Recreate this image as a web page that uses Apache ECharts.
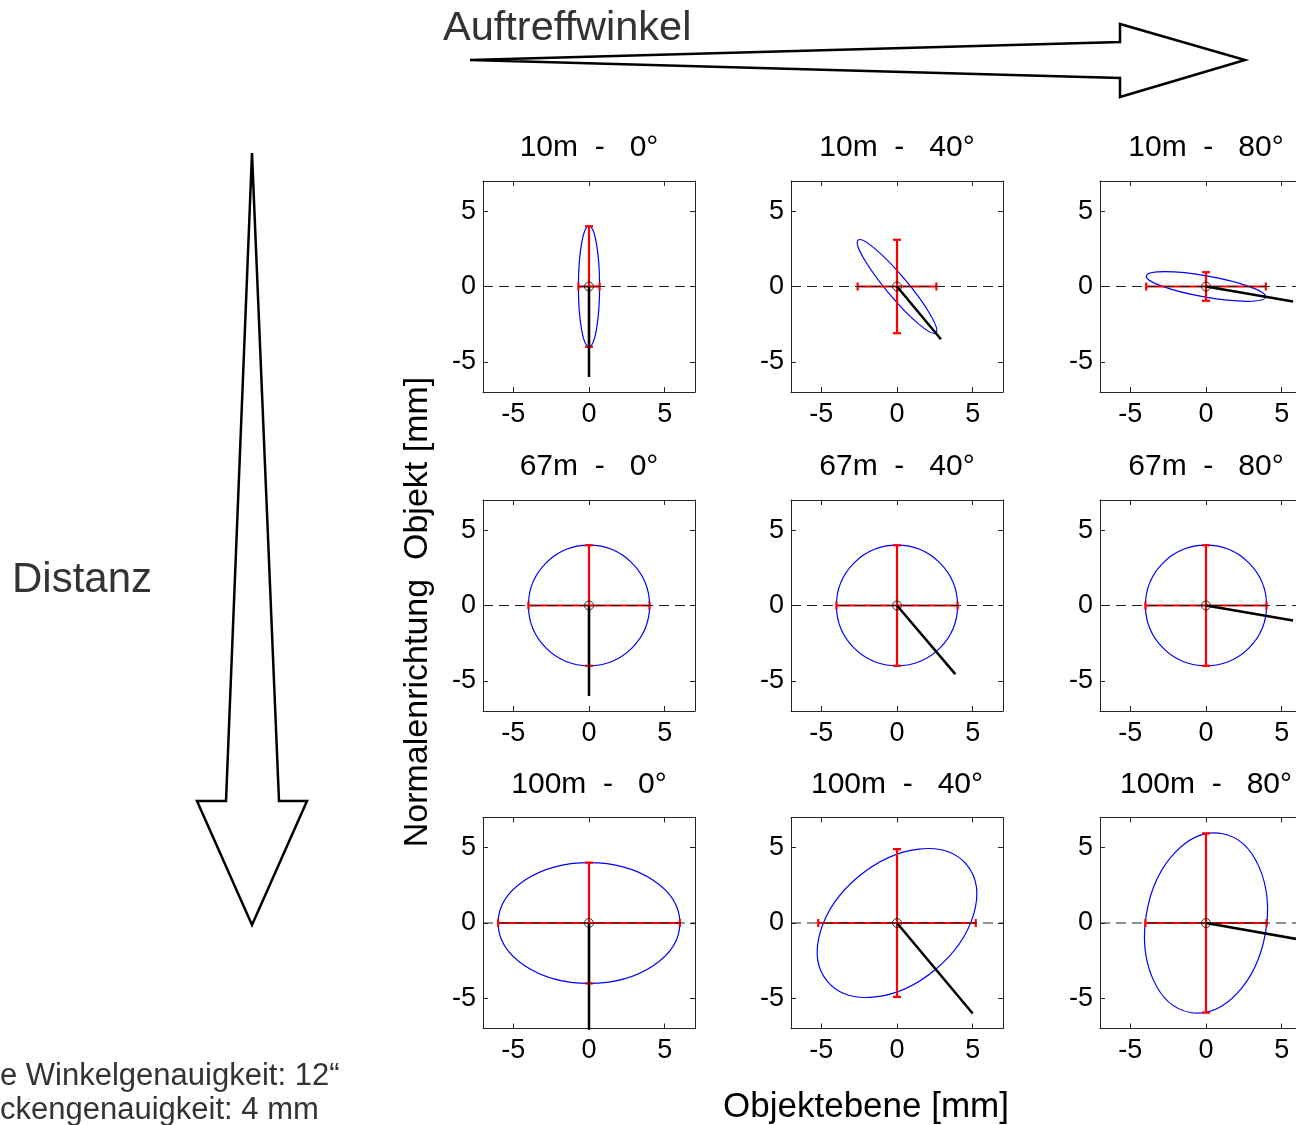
<!DOCTYPE html>
<html>
<head>
<meta charset="utf-8">
<script src="https://cdn.jsdelivr.net/npm/echarts@6/dist/echarts.min.js"></script>
<style>
  html, body { margin: 0; padding: 0; background: #ffffff; }
  #chart { width: 1296px; height: 1125px; }
</style>
</head>
<body>
<div id="chart"></div>
<script>
// Rows: target distance, columns: angle of incidence
const distances = ['10m', '67m', '100m'];
const angles = ['0°', '40°', '80°'];
const tickValues = [-5, 0, 5];
const axisRange = [-7, 7];

// Error ellipse per panel (row-major): semi-axes [mm] and rotation [deg, counter-clockwise]
const ellipseRx  = [0.7, 4.0, 4.0,   4.0, 4.0, 4.0,   6.0, 6.0, 6.0];
const ellipseRy  = [4.0, 0.7, 0.7,   4.0, 4.0, 4.0,   4.0, 4.0, 4.0];
const ellipseRot = [0,   -50, -10,   0,   0,   0,     0,   40,  80];

// Standard deviations projected on the axes (red error bars) [mm]
const errObjPlane = [0.7, 2.6, 3.95,  4.0, 4.0, 4.0,  6.0, 5.2, 4.0];
const errNormal   = [4.0, 3.1, 0.95,  4.0, 4.0, 4.0,  4.0, 4.9, 5.95];

// End point of the incoming beam drawn from the origin [mm]
const beamEndX = [0,  2.9,  5.75,  0,  3.85,  5.75,  0,  5.0,  7.9];
const beamEndY = [-6, -3.5, -1.0,  -6, -4.55, -1.0,  -8, -6.0, -1.4];

const FONT = '"Liberation Sans", Arial, Helvetica, sans-serif';
const colLeft = [483, 791, 1100];
const rowTop = [181, 500, 817.5];
const boxW = 212, boxH = 211;

const frameColor = '#262626';
const grids = [], xAxes = [], yAxes = [], series = [], graphics = [];

function axisCommon(gridIndex, position, showLabel, isX) {
  return {
    gridIndex: gridIndex,
    type: 'value',
    position: position,
    min: axisRange[0],
    max: axisRange[1],
    axisLine: { show: true, onZero: false, lineStyle: { color: frameColor, width: 1 } },
    axisTick: { show: true, inside: true, length: 5, customValues: tickValues,
                lineStyle: { color: frameColor, width: 1 } },
    axisLabel: { show: showLabel, customValues: tickValues, color: '#000',
                 fontSize: 27, fontFamily: FONT, margin: isX ? 9 : 7 },
    splitLine: { show: false }
  };
}

for (let r = 0; r < 3; r++) {
  for (let c = 0; c < 3; c++) {
    const i = r * 3 + c;
    grids.push({ left: colLeft[c], top: rowTop[r], width: boxW, height: boxH,
                 containLabel: false, outerBoundsMode: 'none' });
    xAxes.push(axisCommon(i, 'bottom', true, true));
    xAxes.push(axisCommon(i, 'top', false, true));
    yAxes.push(axisCommon(i, 'left', true, false));
    yAxes.push(axisCommon(i, 'right', false, false));
    const xi = i * 2, yi = i * 2;

    // error ellipse
    series.push({
      type: 'custom', xAxisIndex: xi, yAxisIndex: yi, silent: true, z: 1, clip: true,
      data: [[0, 0, ellipseRx[i], ellipseRy[i], ellipseRot[i]]],
      renderItem: function (params, api) {
        const ctr = api.coord([api.value(0), api.value(1)]);
        const sz = api.size([api.value(2), api.value(3)]);
        return {
          type: 'ellipse', x: ctr[0], y: ctr[1],
          rotation: api.value(4) * Math.PI / 180,
          shape: { cx: 0, cy: 0, rx: sz[0], ry: sz[1] },
          style: { fill: 'none', stroke: '#0000ff', lineWidth: 1.2 }
        };
      }
    });

    // error bars along object plane and normal direction
    series.push({
      type: 'custom', xAxisIndex: xi, yAxisIndex: yi, silent: true, z: 2, clip: true,
      data: [[errObjPlane[i], errNormal[i]]],
      renderItem: function (params, api) {
        const ex = api.value(0), ey = api.value(1);
        const L = api.coord([-ex, 0]), R = api.coord([ex, 0]);
        const T = api.coord([0, ey]), B = api.coord([0, -ey]);
        const cap = 4;
        const st = { stroke: '#ff0000', lineWidth: 2.2 };
        const ln = (x1, y1, x2, y2) => ({ type: 'line', shape: { x1, y1, x2, y2 }, style: st });
        return {
          type: 'group',
          children: [
            ln(L[0], L[1], R[0], R[1]),
            ln(L[0], L[1] - cap, L[0], L[1] + cap),
            ln(R[0], R[1] - cap, R[0], R[1] + cap),
            ln(T[0], T[1], B[0], B[1]),
            ln(T[0] - cap, T[1], T[0] + cap, T[1]),
            ln(B[0] - cap, B[1], B[0] + cap, B[1])
          ]
        };
      }
    });

    // object plane (dashed)
    series.push({
      type: 'line', xAxisIndex: xi, yAxisIndex: yi, silent: true, z: 3,
      symbol: 'none',
      data: [[axisRange[0], 0], [axisRange[1], 0]],
      lineStyle: { color: '#222222', width: 1, type: [10, 6] }
    });

    // incoming beam
    series.push({
      type: 'line', xAxisIndex: xi, yAxisIndex: yi, silent: true, z: 4,
      symbol: 'none', clip: true,
      data: [[0, 0], [beamEndX[i], beamEndY[i]]],
      lineStyle: { color: '#000000', width: 2.5 }
    });

    // target point
    series.push({
      type: 'scatter', xAxisIndex: xi, yAxisIndex: yi, silent: true, z: 5,
      symbol: 'circle', symbolSize: 9,
      data: [[0, 0]],
      itemStyle: { color: 'rgba(0,0,0,0)', borderColor: '#000000', borderWidth: 1 }
    });

    // panel title
    graphics.push({
      type: 'text', x: colLeft[c] + boxW / 2, y: rowTop[r] - 33,
      style: {
        text: distances[r] + '  -   ' + angles[c],
        font: '30px ' + FONT, fill: '#000',
        align: 'center', verticalAlign: 'middle',
        textAlign: 'center', textVerticalAlign: 'middle'
      }
    });
  }
}

// axis labels
graphics.push({
  type: 'text', x: 418, y: 612, rotation: Math.PI / 2,
  style: { text: 'Normalenrichtung  Objekt [mm]', font: '34px ' + FONT, fill: '#000',
           align: 'center', verticalAlign: 'middle', textAlign: 'center', textVerticalAlign: 'middle' }
});
graphics.push({
  type: 'text', x: 866, y: 1107,
  style: { text: 'Objektebene [mm]', font: '35px ' + FONT, fill: '#000',
           align: 'center', verticalAlign: 'middle', textAlign: 'center', textVerticalAlign: 'middle' }
});

// angle-of-incidence arrow
graphics.push({
  type: 'polygon', z: 10,
  shape: { points: [[470, 60], [1120, 42], [1120, 24], [1245, 60], [1120, 97], [1120, 78]] },
  style: { fill: '#ffffff', stroke: '#000000', lineWidth: 2.5, lineJoin: 'miter' }
});
graphics.push({
  type: 'text', x: 443, y: 29,
  style: { text: 'Auftreffwinkel', font: '41.5px ' + FONT, fill: '#333333',
           align: 'left', verticalAlign: 'middle', textAlign: 'left', textVerticalAlign: 'middle' }
});

// distance arrow
graphics.push({
  type: 'polygon', z: 10,
  shape: { points: [[252, 153], [279, 801], [307, 801], [252, 925], [197, 801], [226, 801]] },
  style: { fill: '#ffffff', stroke: '#000000', lineWidth: 2.5, lineJoin: 'miter' }
});
graphics.push({
  type: 'text', x: 12, y: 580,
  style: { text: 'Distanz', font: '42px ' + FONT, fill: '#333333',
           align: 'left', verticalAlign: 'middle', textAlign: 'left', textVerticalAlign: 'middle' }
});

// simulation parameters
graphics.push({
  type: 'text', x: 0, y: 1076,
  style: { text: 'e Winkelgenauigkeit: 12“', font: '31px ' + FONT, fill: '#333333',
           align: 'left', verticalAlign: 'middle', textAlign: 'left', textVerticalAlign: 'middle' }
});
graphics.push({
  type: 'text', x: 0, y: 1110,
  style: { text: 'ckengenauigkeit: 4 mm', font: '31px ' + FONT, fill: '#333333',
           align: 'left', verticalAlign: 'middle', textAlign: 'left', textVerticalAlign: 'middle' }
});

const chart = echarts.init(document.getElementById('chart'));
chart.setOption({
  animation: false,
  backgroundColor: '#ffffff',
  grid: grids,
  xAxis: xAxes,
  yAxis: yAxes,
  series: series,
  graphic: { elements: graphics }
});
</script>
</body>
</html>
